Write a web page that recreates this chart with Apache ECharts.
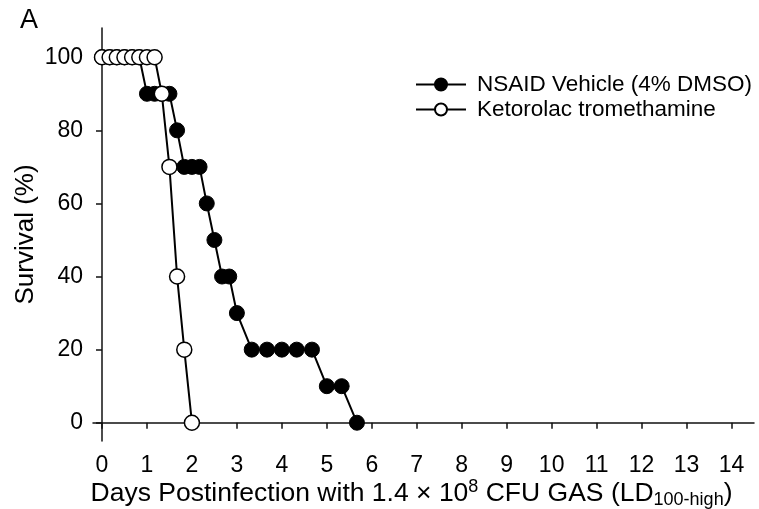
<!DOCTYPE html>
<html>
<head>
<meta charset="utf-8">
<script src="https://cdn.jsdelivr.net/npm/echarts@6/dist/echarts.min.js"></script>
<style>
html, body { margin: 0; padding: 0; background: #fff; }
#chart { width: 759px; height: 509px; }
</style>
</head>
<body>
<div id="chart"></div>
<script>
// days postinfection (~4 h steps)
var vehicleDays = [0, 0.17, 0.33, 0.5, 0.67, 0.83, 1.0, 1.17, 1.33, 1.5, 1.67, 1.83, 2.0, 2.17, 2.33, 2.5, 2.67, 2.83, 3.0, 3.33, 3.67, 4.0, 4.33, 4.67, 5.0, 5.33, 5.67];
var vehicleSurvival = [100, 100, 100, 100, 100, 100, 90, 90, 90, 90, 80, 70, 70, 70, 60, 50, 40, 40, 30, 20, 20, 20, 20, 20, 10, 10, 0];
var ketorolacDays = [0, 0.17, 0.33, 0.5, 0.67, 0.83, 1.0, 1.17, 1.33, 1.5, 1.67, 1.83, 2.0];
var ketorolacSurvival = [100, 100, 100, 100, 100, 100, 100, 100, 90, 70, 40, 20, 0];
var xTicks = [0, 1, 2, 3, 4, 5, 6, 7, 8, 9, 10, 11, 12, 13, 14];
var yTicks = [0, 20, 40, 60, 80, 100];

function pairs(xs, ys) {
    var out = [];
    for (var i = 0; i < xs.length; i++) out.push([xs[i], ys[i]]);
    return out;
}

var font = "Liberation Sans";
var chart = echarts.init(document.getElementById("chart"));
chart.setOption({
    animation: false,
    textStyle: { fontFamily: font, color: "#000" },
    title: {
        text: "A",
        left: 15, top: 2,
        textStyle: { fontFamily: font, fontSize: 27, fontWeight: "normal", color: "#000" }
    },
    legend: {
        left: 410, top: 68,
        orient: "vertical",
        itemWidth: 50, itemHeight: 15,
        itemGap: 2,
        textStyle: { fontFamily: font, fontSize: 22.5, color: "#000", padding: [0, 0, 0, 6] },
        data: ["NSAID Vehicle (4% DMSO)", "Ketorolac tromethamine"]
    },
    grid: { left: 93, right: 5, top: 28, bottom: 68, outerBoundsMode: "none" },
    xAxis: {
        type: "value",
        min: -0.2, max: 14.5,
        name: "Days Postinfection with 1.4 \u00d7 10{sup|8} CFU GAS (LD{sub|100-high})",
        nameLocation: "middle",
        nameGap: 37,
        nameMoveOverlap: false,
        nameTextStyle: {
            fontFamily: font, fontSize: 26.5, color: "#000",
            padding: [0, 24, 0, 0],
            rich: {
                sup: { fontSize: 18, verticalAlign: "top", padding: [0, 0, 12, 0] },
                sub: { fontSize: 18, verticalAlign: "bottom", padding: [13, 0, 0, 0] }
            }
        },
        axisLine: { lineStyle: { color: "#111", width: 1.5 } },
        axisTick: { customValues: xTicks, length: 6, lineStyle: { color: "#111", width: 1.5 } },
        axisLabel: { customValues: xTicks, fontSize: 23, color: "#000", margin: 13 },
        splitLine: { show: false }
    },
    yAxis: {
        type: "value",
        min: -5, max: 108,
        name: "Survival (%)",
        nameLocation: "middle",
        nameGap: 54,
        nameMoveOverlap: false,
        nameTextStyle: { fontFamily: font, fontSize: 26, color: "#000" },
        axisLine: { show: true, lineStyle: { color: "#111", width: 1.5 } },
        axisTick: { show: true, customValues: yTicks, length: 6, lineStyle: { color: "#111", width: 1.5 } },
        axisLabel: { customValues: yTicks, fontSize: 23, color: "#000", margin: 10 },
        splitLine: { show: false }
    },
    series: [
        {
            name: "NSAID Vehicle (4% DMSO)",
            type: "line",
            data: pairs(vehicleDays, vehicleSurvival),
            symbol: "circle",
            symbolSize: 15,
            lineStyle: { color: "#000", width: 2 },
            itemStyle: { color: "#000", borderColor: "#000", borderWidth: 1 }
        },
        {
            name: "Ketorolac tromethamine",
            type: "line",
            data: pairs(ketorolacDays, ketorolacSurvival),
            symbol: "circle",
            symbolSize: 15,
            lineStyle: { color: "#000", width: 2 },
            itemStyle: { color: "#fff", borderColor: "#000", borderWidth: 1.5 }
        }
    ]
});
</script>
</body>
</html>
